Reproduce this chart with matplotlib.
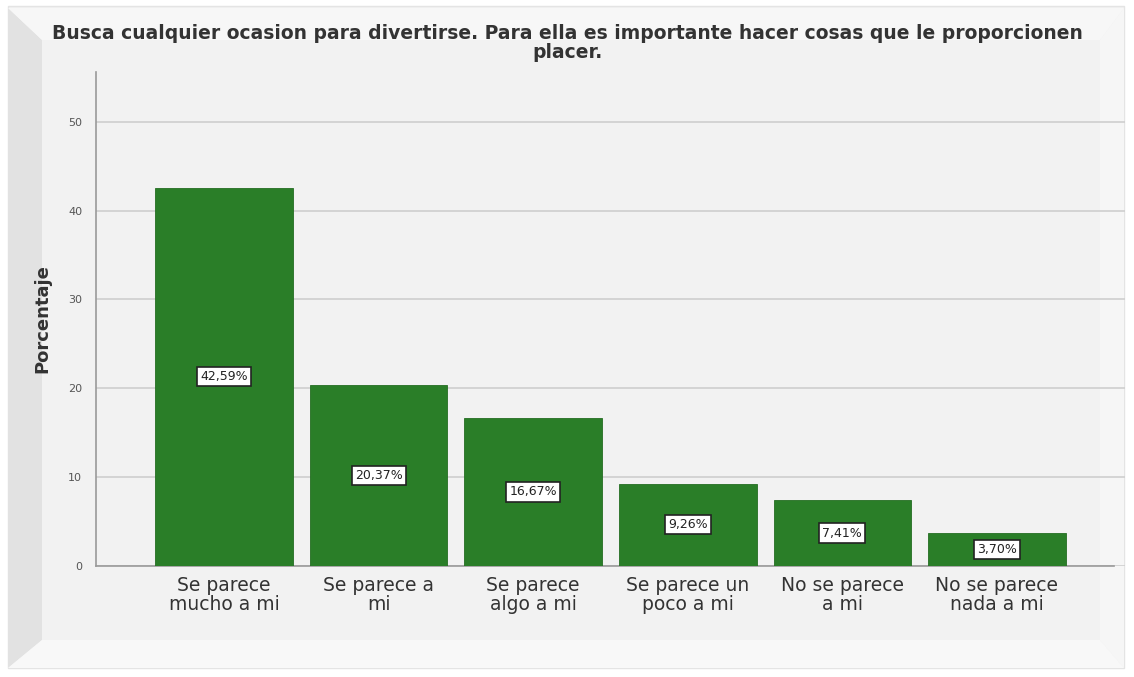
import matplotlib.pyplot as plt
from matplotlib.patches import Rectangle, Polygon

categorias = ['Se parece\nmucho a mi', 'Se parece a\nmi', 'Se parece\nalgo a mi',
              'Se parece un\npoco a mi', 'No se parece\na mi', 'No se parece\nnada a mi']
porcentajes = [42.59, 20.37, 16.67, 9.26, 7.41, 3.70]
etiquetas = ['42,59%', '20,37%', '16,67%', '9,26%', '7,41%', '3,70%']
yticks = [0, 10, 20, 30, 40, 50]

titulo = ('Busca cualquier ocasion para divertirse. Para ella es importante hacer cosas que le proporcionen\n'
          'placer.')

fig = plt.figure(figsize=(11.34, 6.77), dpi=100, facecolor='white')

# marco con relieve
W, H = 1134, 677
def fx(x): return x / W
def fy(y): return 1 - y / H
fig.patches.append(Rectangle((fx(8), fy(668)), fx(1124) - fx(8), fy(6) - fy(668),
                             transform=fig.transFigure, facecolor='#f2f2f2', edgecolor='#e4e4e4', lw=1, zorder=-5))
fig.patches.append(Polygon([(fx(8), fy(8)), (fx(42), fy(40)), (fx(42), fy(640)), (fx(8), fy(668))],
                           closed=True, transform=fig.transFigure, facecolor='#e2e2e2', edgecolor='none', zorder=-5))
fig.patches.append(Polygon([(fx(8), fy(668)), (fx(42), fy(640)), (fx(1100), fy(640)), (fx(1124), fy(668))],
                           closed=True, transform=fig.transFigure, facecolor='#f8f8f8', edgecolor='none', zorder=-5))
fig.patches.append(Polygon([(fx(8), fy(8)), (fx(1124), fy(8)), (fx(1100), fy(40)), (fx(42), fy(40))],
                           closed=True, transform=fig.transFigure, facecolor='#f7f7f7', edgecolor='none', zorder=-5))
fig.patches.append(Polygon([(fx(1124), fy(8)), (fx(1124), fy(668)), (fx(1100), fy(640)), (fx(1100), fy(40))],
                           closed=True, transform=fig.transFigure, facecolor='#f6f6f6', edgecolor='none', zorder=-5))

ax = fig.add_axes([96 / W, 1 - 566 / H, (1125 - 96) / W, (566 - 72) / H], zorder=2)
ax.set_facecolor('none')

x = list(range(len(categorias)))
ax.bar(x, porcentajes, width=0.89, color='#2a7e28', edgecolor='#246e22', linewidth=0.6, zorder=3)

for xi, v, t in zip(x, porcentajes, etiquetas):
    ax.text(xi, v / 2, t, ha='center', va='center', fontsize=9, color='#222222', zorder=4,
            bbox=dict(boxstyle='square,pad=0.25', facecolor='white', edgecolor='#222222', lw=1.2))

ax.set_xlim(-0.83, 5.83)
ax.set_ylim(0, 55.6)
ax.set_yticks(yticks)
ax.set_yticklabels([str(t) for t in yticks], fontsize=8, color='#555555')
ax.set_xticks(x)
ax.set_xticklabels(categorias, fontsize=13.5, color='#333333', linespacing=1.0)
ax.tick_params(axis='both', length=0, pad=7)
ax.tick_params(axis='y', pad=10)

ax.yaxis.grid(True, color='#cfcfcf', linewidth=1.2, zorder=0)
ax.set_axisbelow(True)
for s in ['top', 'right']:
    ax.spines[s].set_visible(False)
ax.spines['left'].set_color('#9a9a9a')
ax.spines['bottom'].set_color('#9a9a9a')
ax.spines['left'].set_linewidth(1.2)
ax.spines['bottom'].set_linewidth(1.2)
ax.spines['bottom'].set_bounds(-0.83, 5.76)

ax.set_ylabel('Porcentaje', fontsize=13, fontweight='bold', color='#333333', labelpad=12)

fig.text(0.5, 1 - 43 / H, titulo, ha='center', va='center', fontsize=13.5, fontweight='bold',
         color='#333333', linespacing=0.95)

fig.savefig('out.png', dpi=100, facecolor=fig.get_facecolor())
